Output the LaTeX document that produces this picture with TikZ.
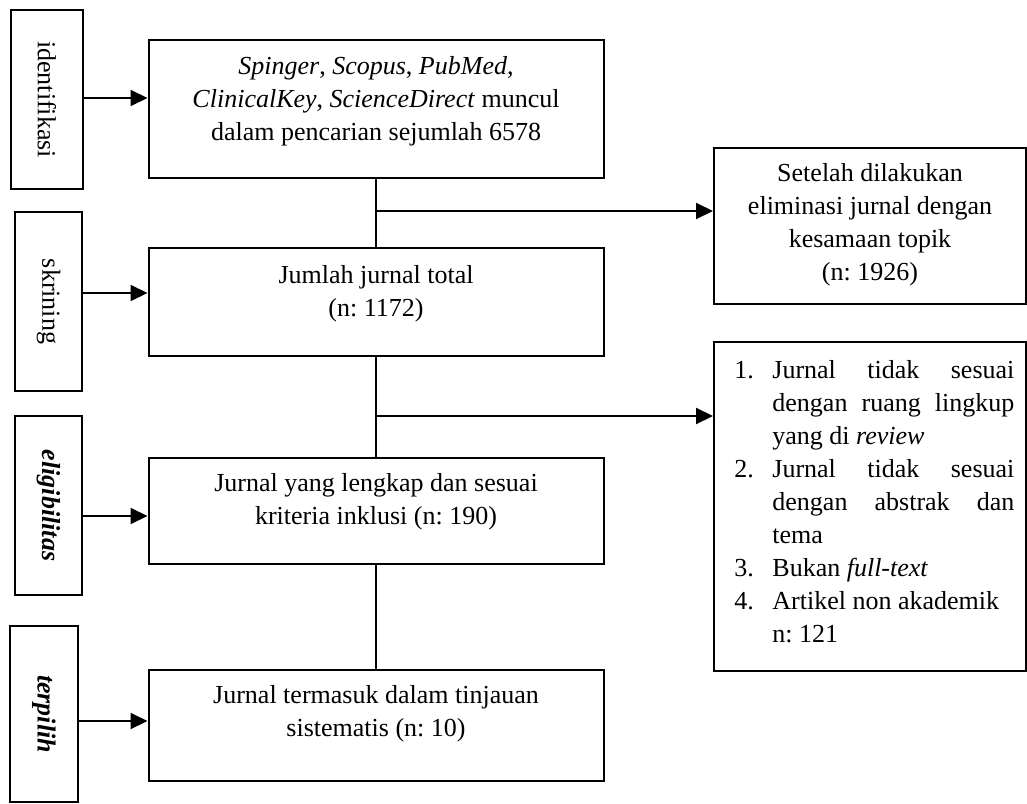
\documentclass[tikz,border=0pt]{standalone}
\usepackage{fontspec}
\setmainfont{Liberation Serif}
\usepackage{enumitem}
\usetikzlibrary{positioning, arrows.meta}
\frenchspacing

\begin{document}
\begin{tikzpicture}[x=0.5pt, y=-0.5pt,
        every node/.style={font=\fontsize{13}{16.5}\selectfont},
        mainbox/.style={draw, line width=1pt, minimum width=227.5pt, inner sep=0pt},
        sidebox/.style={draw, line width=0.6pt, rotate=-90, minimum width=89.5pt, minimum height=33.5pt, inner sep=0pt},
        txt/.style={align=center, inner sep=0pt},
        arr/.style={line width=1pt, -{Triangle[length=8.5pt, width=8pt]}},
        link/.style={line width=0.65pt}]
        \useasboundingbox (0,0) rectangle (1027,803);

        \node[sidebox, minimum height=36pt] (idf) at (47,99.5) {identifikasi};
        \node[sidebox] (skr) at (48.5,301.5) {skrining};
        \node[sidebox] (elg) at (48.5,505.5) {\textbf{\textit{eligibilitas}}};
        \node[sidebox, minimum width=88pt, minimum height=34pt] (tpl) at (44,714) {\textbf{\textit{terpilih}}};

        \node[mainbox, minimum height=69pt] (src) at (376,109) {};
        \node[txt, below=8.5pt of src.north] (srctxt) {\textit{Spinger}, \textit{Scopus}, \textit{PubMed},\\
            \textit{ClinicalKey}, \textit{ScienceDirect} muncul\\dalam pencarian sejumlah 6578};
        \node[mainbox, minimum height=54pt] (tot) at (376,302) {};
        \node[txt, below=9pt of tot.north] (tottxt) {Jumlah jurnal total\\(n: 1172)};
        \node[mainbox, minimum height=53pt] (elig) at (376,511) {};
        \node[txt, below=8pt of elig.north] (eligtxt) {Jurnal yang lengkap dan sesuai\\kriteria inklusi (n: 190)};
        \node[mainbox, minimum height=55.5pt] (incl) at (376,725.5) {};
        \node[txt, below=8pt of incl.north] (incltxt) {Jurnal termasuk dalam tinjauan\\sistematis (n: 10)};

        \node[mainbox, minimum width=156pt, minimum height=78pt] (elim) at (870,226) {};
        \node[txt, below=8pt of elim.north] (elimtxt) {Setelah dilakukan\\eliminasi jurnal dengan\\kesamaan topik\\(n: 1926)};
        \node[mainbox, minimum width=156pt, minimum height=164.5pt] (excl) at (870,506.5) {};
        \node[inner sep=0pt, text width=140pt, align=justify, below right=2pt and 10.5pt of excl.north west] (excltxt) {\tolerance=10000
            \begin{enumerate}[label=\arabic*., leftmargin=19pt, labelindent=0pt, labelwidth=10pt, labelsep=9pt, align=left, topsep=0pt, partopsep=0pt, parsep=0pt, itemsep=0pt]
            \item Jurnal tidak sesuai\linebreak dengan ruang lingkup\linebreak yang di \textit{review}
            \item Jurnal tidak sesuai\linebreak dengan abstrak dan\linebreak tema
            \item Bukan \textit{full-text}
            \item Artikel non akademik\newline n: 121
            \end{enumerate}};

        % arrows from the stage labels
        \draw[arr] (idf.north |- 0,98) -- (src.west |- 0,98);
        \draw[arr] (skr.north |- 0,293) -- (tot.west |- 0,293);
        \draw[arr] (elg.north |- 0,516) -- (elig.west |- 0,516);
        \draw[arr] (tpl.north |- 0,721) -- (incl.west |- 0,721);

        \draw[link] (src.south) -- (tot.north);
        \draw[link] (tot.south) -- (elig.north);
        \draw[link] (elig.south) -- (incl.north);

        \coordinate (br1) at (376,211);
        \coordinate (br2) at (376,416);
        \draw[arr] (br1) -- (br1 -| elim.west);
        \draw[arr] (br2) -- (br2 -| excl.west);
    \end{tikzpicture}
\end{document}
